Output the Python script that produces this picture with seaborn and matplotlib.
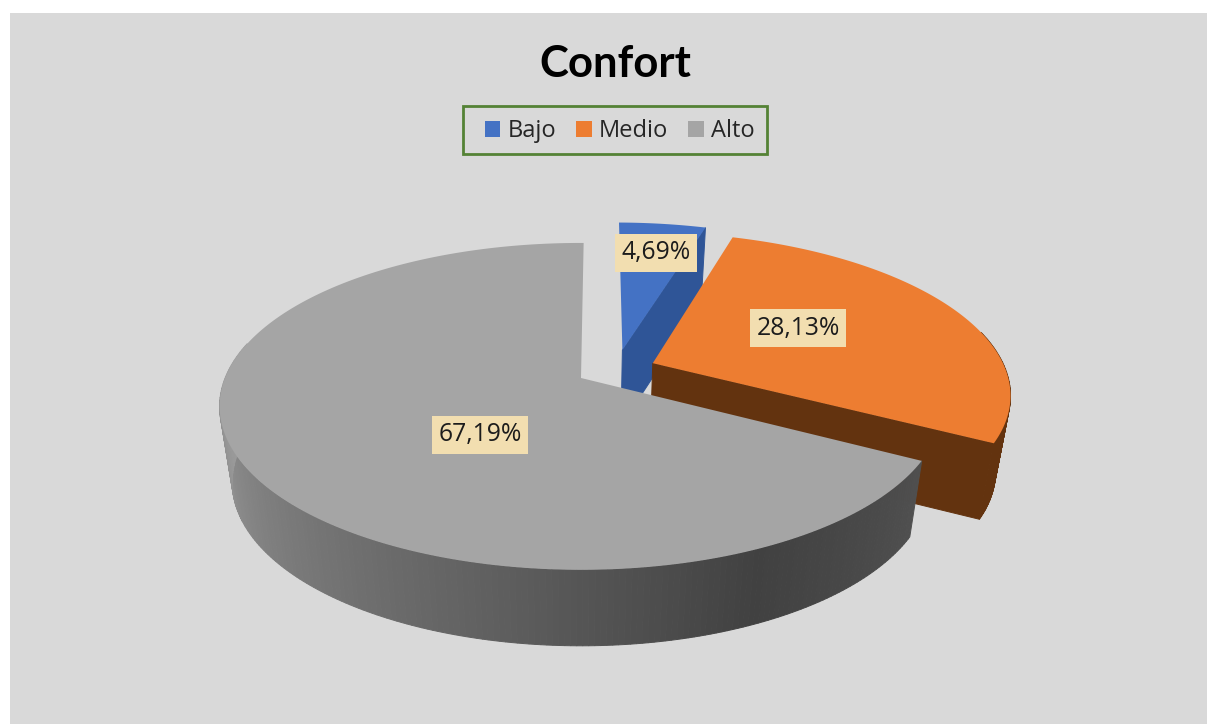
import numpy as np
import matplotlib
matplotlib.use("Agg")
import matplotlib.pyplot as plt
from matplotlib.patches import Rectangle, Patch
import seaborn as sns

# Chart values
categories = ["Bajo", "Medio", "Alto"]
shares = [4.69, 28.13, 67.19]
value_labels = ["4,69%", "28,13%", "67,19%"]
title_text = "Confort"

# Slice colours: top surface and cut/side faces
top_colors = ["#4472c4", "#ed7d31", "#a5a5a5"]
side_colors = ["#2f5597", "#63330f", "#4e4e4e"]

# Camera and layout of the tilted pie, in figure pixels
CX, CY = 581.0, 378.0
A, B, D = 2050.0, 913.0, 5.76
FLOOR_SCALE, FLOOR_DROP = 0.965, 76.0
START_DEG = 0.5
explode = [(0.12, 0.182), (0.205, 0.095), (0.0, 0.0)]
label_xy = [(656, 253), (798, 328), (480, 435)]

sns.set_theme(style="white")
plt.rcParams["font.family"] = ["Open Sans", "DejaVu Sans"]

fig = plt.figure(figsize=(12.07, 7.24), dpi=100, facecolor="white")
ax = fig.add_axes([0, 0, 1, 1])
ax.set_xlim(0, 1207)
ax.set_ylim(724, 0)
ax.axis("off")
ax.add_patch(Rectangle((10, 13), 1197, 711, facecolor="#d9d9d9", edgecolor="none", zorder=0))


def project(deg, radius, offset, floor=False):
    """Project a point of the unit disc onto the screen with perspective."""
    t = np.radians(deg)
    px = offset[0] + radius * np.sin(t)
    py = offset[1] + radius * np.cos(t)
    depth = D + py
    sx = A * px / depth
    sy = -B * py / depth
    if floor:
        return CX + FLOOR_SCALE * sx, CY + sy + FLOOR_DROP
    return CX + sx, CY + sy


def rim_strip(deg_a, deg_b, offset, color, z):
    """One thin piece of the outer rim between two nearby angles."""
    arc = np.array([deg_a, deg_b])
    tx, ty = project(arc, 1.0, offset)
    bx, by = project(arc[::-1], 1.0, offset, floor=True)
    ax.fill(np.r_[tx, bx], np.r_[ty, by], color=color, lw=0.7, zorder=z)


def cut_face(deg, offset, color, z):
    """Flat radial face of a slice, from the apex out to the rim."""
    ax0, ay0 = project(deg, 0.0, offset)
    ax1, ay1 = project(deg, 1.0, offset)
    bx1, by1 = project(deg, 1.0, offset, floor=True)
    bx0, by0 = project(deg, 0.0, offset, floor=True)
    ax.fill([ax0, ax1, bx1, bx0], [ay0, ay1, by1, by0], color=color, lw=0.7, zorder=z)


def top_face(deg_a, deg_b, offset, color, z):
    arc = np.linspace(deg_a, deg_b, 200)
    tx, ty = project(arc, 1.0, offset)
    ox, oy = project(deg_a, 0.0, offset)
    ax.fill(np.r_[ox, tx], np.r_[oy, ty], color=color, lw=0, zorder=z)


fractions = np.array(shares) / np.sum(shares)
edges = START_DEG + 360.0 * np.r_[0.0, np.cumsum(fractions)]

# Small slice at the back: its right-hand cut face shows
cut_face(edges[1], explode[0], side_colors[0], 2)
top_face(edges[0], edges[1], explode[0], top_colors[0], 3)

# Middle slice: front part of the rim, front cut face, then the top
orange_steps = np.linspace(78.0, edges[2], 80)
for a, b in zip(orange_steps[:-1], orange_steps[1:]):
    rim_strip(a, b, explode[1], side_colors[1], 4)
cut_face(edges[2], explode[1], side_colors[1], 5)
top_face(edges[1], edges[2], explode[1], top_colors[1], 6)

# Large slice: rim shaded in thin strips from light on the left to dark on the right.
# The rim behind the disc stays hidden, so the strips stop short of the back.
rim_steps = np.linspace(edges[2], 283.0, 200)
rim_levels = np.interp(rim_steps, [118, 155, 195, 232, 275], [0x50, 0x41, 0x62, 0x7e, 0xa0]) / 255.0
for a, b, level in zip(rim_steps[:-1], rim_steps[1:], rim_levels):
    rim_strip(a, b, explode[2], (level, level, level), 7)
top_face(edges[2], edges[3], explode[2], top_colors[2], 8)

# Value labels on parchment-coloured boxes
for text, (lx, ly) in zip(value_labels, label_xy):
    ax.text(lx, ly, text, ha="center", va="center", fontsize=17.8, color="#1c1c1c", zorder=10,
            bbox=dict(boxstyle="square,pad=0.27", facecolor="#f2deb0", edgecolor="none"))

ax.text(615, 64, title_text, ha="center", va="center", fontsize=31.5, fontweight="bold",
        family=["Lato", "DejaVu Sans"], color="black", zorder=10)

# Legend entries with a separately drawn green frame
ax.add_patch(Rectangle((463, 106), 304, 48, facecolor="#d9d9d9", edgecolor="#548235",
                       linewidth=2, zorder=9))
handles = [Patch(facecolor=c, edgecolor="none", label=n) for c, n in zip(top_colors, categories)]
legend = ax.legend(handles=handles, loc="center", bbox_to_anchor=(619.5 / 1207, 1 - 131 / 724),
                   bbox_transform=fig.transFigure, ncol=3, frameon=False, fontsize=17,
                   handlelength=0.66, handleheight=0.66, handletextpad=0.3, columnspacing=0.85,
                   borderpad=0, borderaxespad=0, labelcolor="#262626")
legend.set_zorder(10)

fig.savefig("out.png", dpi=100, facecolor="white")
